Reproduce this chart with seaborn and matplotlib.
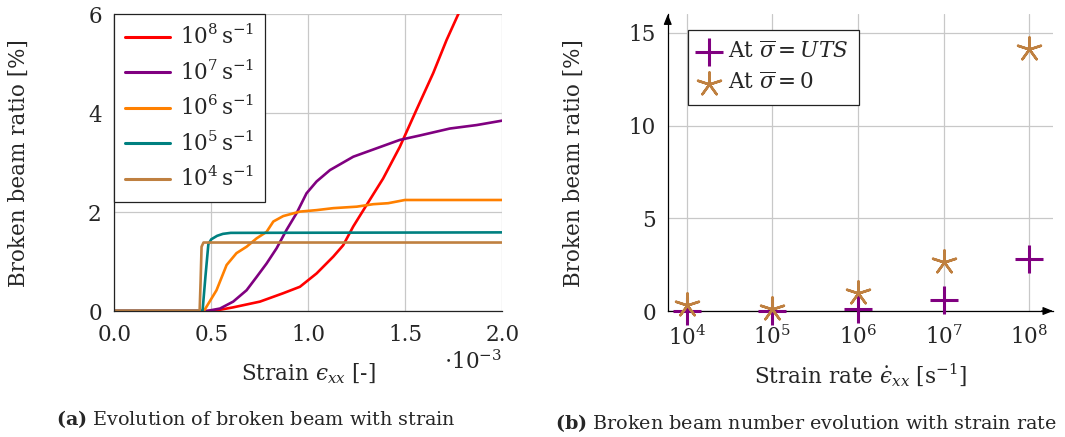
import numpy as np
import pandas as pd
import matplotlib
matplotlib.use("Agg")
import matplotlib.pyplot as plt
import seaborn as sns
from matplotlib.ticker import LogLocator, LogFormatterMathtext, NullFormatter, FixedLocator

# ---- (a) broken beam ratio [%] vs strain (strain given in units of 1e-3) ----
rate_labels = [r"$10^{8}\,\mathrm{s}^{-1}$", r"$10^{7}\,\mathrm{s}^{-1}$",
               r"$10^{6}\,\mathrm{s}^{-1}$", r"$10^{5}\,\mathrm{s}^{-1}$",
               r"$10^{4}\,\mathrm{s}^{-1}$"]
rate_colors = ["#ff0000", "#800080", "#ff8000", "#008080", "#bf8040"]

strain_1e8 = [0.0, 0.51, 0.613, 0.751, 0.871, 0.957, 1.043, 1.129, 1.18, 1.232,
              1.30, 1.386, 1.472, 1.558, 1.644, 1.713, 1.773, 1.85]
ratio_1e8 = [0.0, 0.0, 0.074, 0.19, 0.36, 0.49, 0.76, 1.10, 1.33, 1.71,
             2.14, 2.68, 3.32, 4.07, 4.81, 5.48, 6.0, 6.6]

strain_1e7 = [0.0, 0.476, 0.545, 0.613, 0.682, 0.734, 0.785, 0.837, 0.888, 0.94,
              0.991, 1.043, 1.112, 1.232, 1.352, 1.472, 1.576, 1.73, 1.868, 2.0]
ratio_1e7 = [0.0, 0.0, 0.05, 0.19, 0.42, 0.69, 0.96, 1.27, 1.64, 1.98,
             2.38, 2.62, 2.85, 3.12, 3.29, 3.46, 3.55, 3.69, 3.76, 3.85]

strain_1e6 = [0.0, 0.462, 0.527, 0.579, 0.63, 0.682, 0.734, 0.785, 0.82, 0.871,
              0.957, 1.043, 1.129, 1.25, 1.335, 1.412, 1.498, 2.0]
ratio_1e6 = [0.0, 0.0, 0.42, 0.93, 1.17, 1.30, 1.47, 1.60, 1.81, 1.92,
             2.01, 2.04, 2.08, 2.11, 2.16, 2.18, 2.245, 2.245]

strain_1e5 = [0.0, 0.455, 0.47, 0.485, 0.50, 0.53, 0.56, 0.60, 2.0]
ratio_1e5 = [0.0, 0.0, 0.7, 1.35, 1.45, 1.52, 1.56, 1.58, 1.59]

strain_1e4 = [0.0, 0.44, 0.445, 0.45, 0.46, 2.0]
ratio_1e4 = [0.0, 0.0, 0.6, 1.3, 1.385, 1.385]

# ---- (b) broken beam ratio [%] vs strain rate ----
strain_rates = [1e4, 1e5, 1e6, 1e7, 1e8]
ratio_at_uts = [0.0, 0.0, 0.1, 0.6, 2.8]
ratio_at_zero = [0.35, 0.1, 0.95, 2.66, 14.15]

purple = "#800080"
brown = "#bf8040"

sns.set_theme(style="whitegrid")
plt.rcParams["font.family"] = ["DejaVu Serif"]
plt.rcParams["mathtext.fontset"] = "dejavuserif"
plt.rcParams["axes.unicode_minus"] = True

FS = 15.5
grid_kw = dict(color="#c8c8c8", linewidth=0.9)

fig = plt.figure(figsize=(10.65, 4.37), dpi=100)
fig.patch.set_facecolor("white")

# ---------- left panel ----------
axa = fig.add_axes([0.1073, 0.2883, 0.3643, 0.6790])
frames = []
for lab, xs, ys in zip(rate_labels,
                       [strain_1e8, strain_1e7, strain_1e6, strain_1e5, strain_1e4],
                       [ratio_1e8, ratio_1e7, ratio_1e6, ratio_1e5, ratio_1e4]):
    frames.append(pd.DataFrame({"strain": xs, "ratio": ys, "rate": lab}))
df_a = pd.concat(frames, ignore_index=True)

sns.lineplot(data=df_a, x="strain", y="ratio", hue="rate", hue_order=rate_labels,
             palette=dict(zip(rate_labels, rate_colors)), sort=False,
             estimator=None, linewidth=1.9, ax=axa)

axa.set_xlim(0, 2.0)
axa.set_ylim(0, 6)
axa.xaxis.set_major_locator(FixedLocator([0, 0.5, 1.0, 1.5, 2.0]))
axa.yaxis.set_major_locator(FixedLocator([0, 2, 4, 6]))
axa.set_xticklabels(["0.0", "0.5", "1.0", "1.5", "2.0"])
axa.set_yticklabels(["0", "2", "4", "6"])
axa.grid(True, **grid_kw)
axa.set_facecolor("white")
for s in ["top", "right"]:
    axa.spines[s].set_visible(False)
for s in ["left", "bottom"]:
    axa.spines[s].set_color("#222222")
    axa.spines[s].set_linewidth(0.9)
axa.tick_params(axis="both", which="major", direction="out", length=5, width=0.8,
                color="#555555", labelsize=FS, pad=4)
axa.set_xlabel("Strain $\u03f5_{xx}$ [-]", fontsize=FS)
axa.set_ylabel("Broken beam ratio [%]", fontsize=FS)
axa.xaxis.set_label_coords(0.499, -0.172)
axa.yaxis.set_label_coords(-0.217, 0.5)
axa.text(0.925, -0.172, r"$\cdot 10^{-3}$", transform=axa.transAxes,
         fontsize=FS, ha="center", va="center")

leg = axa.legend(loc="upper left", bbox_to_anchor=(0.0, 1.0), borderaxespad=0,
                 fontsize=FS, frameon=True, fancybox=False, edgecolor="#222222",
                 handlelength=2.1, handletextpad=0.45, labelspacing=0.52,
                 borderpad=0.5, title=None)
leg.get_frame().set_linewidth(0.9)
leg.get_frame().set_alpha(1.0)
for ln in leg.get_lines():
    ln.set_linewidth(2.2)

# ---------- right panel ----------
axb = fig.add_axes([0.6270, 0.2883, 0.3618, 0.6790])
sns.scatterplot(x=strain_rates, y=ratio_at_uts, marker="+", s=380, color=purple,
                linewidth=2.2, label=r"At $\overline{\sigma} = UTS$", ax=axb,
                clip_on=False, zorder=5)
sns.scatterplot(x=strain_rates, y=ratio_at_zero, marker=(5, 2, 0), s=300, color=brown,
                edgecolor=brown, linewidth=1.8, label=r"At $\overline{\sigma} = 0$",
                ax=axb, clip_on=False, zorder=6)

axb.set_xscale("log")
axb.set_xlim(10 ** 3.778, 10 ** 8.28)
axb.set_ylim(0, 16)
axb.xaxis.set_major_locator(FixedLocator(strain_rates))
axb.xaxis.set_major_formatter(LogFormatterMathtext())
axb.xaxis.set_minor_locator(LogLocator(base=10, subs=np.arange(2, 10), numticks=20))
axb.xaxis.set_minor_formatter(NullFormatter())
axb.yaxis.set_major_locator(FixedLocator([0, 5, 10, 15]))
axb.grid(True, which="major", **grid_kw)
axb.grid(False, which="minor")
axb.set_facecolor("white")
for s in ["top", "right"]:
    axb.spines[s].set_visible(False)
for s in ["left", "bottom"]:
    axb.spines[s].set_color("black")
    axb.spines[s].set_linewidth(0.9)
axb.tick_params(axis="y", which="major", direction="inout", length=9, width=0.8,
                color="#666666", labelsize=FS, pad=4)
axb.tick_params(axis="x", which="major", direction="inout", length=9, width=0.8,
                color="#666666", labelsize=FS, pad=6)
axb.tick_params(axis="x", which="minor", direction="inout", length=6, width=0.8,
                color="#555555")
axb.set_xlabel("Strain rate $\\dot{\u03f5}_{xx}$ [s$^{-1}$]", fontsize=FS)
axb.set_ylabel("Broken beam ratio [%]", fontsize=FS)
axb.xaxis.set_label_coords(0.499, -0.17)
axb.yaxis.set_label_coords(-0.215, 0.5)

# arrow heads at the ends of both axis lines
axb.annotate("", xy=(1.0, 0.0), xytext=(0.97, 0.0), xycoords="axes fraction",
             arrowprops=dict(arrowstyle="-|>,head_length=0.5,head_width=0.2",
                             color="black", lw=0.9, shrinkA=0, shrinkB=0))
axb.annotate("", xy=(0.0, 1.0), xytext=(0.0, 0.97), xycoords="axes fraction",
             arrowprops=dict(arrowstyle="-|>,head_length=0.5,head_width=0.2",
                             color="black", lw=0.9, shrinkA=0, shrinkB=0))

legb = axb.legend(loc="upper left", bbox_to_anchor=(0.052, 0.948), borderaxespad=0,
                  fontsize=FS, frameon=True, fancybox=False, edgecolor="#222222",
                  handlelength=1.0, handletextpad=0.35, labelspacing=0.45,
                  borderpad=0.5)
legb.get_frame().set_linewidth(0.9)
legb.get_frame().set_alpha(1.0)

# ---------- captions ----------
fig.text(256 / 1065, 1 - 419 / 437, r"$\mathbf{(a)}$ Evolution of broken beam with strain",
         ha="center", va="center", fontsize=13.8)
fig.text(806 / 1065, 1 - 423 / 437,
         r"$\mathbf{(b)}$ Broken beam number evolution with strain rate",
         ha="center", va="center", fontsize=13.8)

fig.savefig("out.png", dpi=100, facecolor="white")
